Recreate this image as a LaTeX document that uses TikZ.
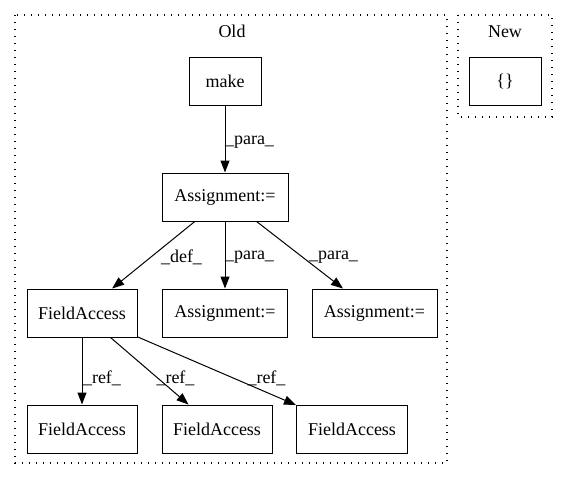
\documentclass[tikz,border=0pt]{standalone}
\usepackage{fontspec}
\setmainfont{Liberation Serif}
\usetikzlibrary{arrows.meta}

\begin{document}
\begin{tikzpicture}[x=1pt,y=-1pt,
	box/.style={draw,line width=1pt,minimum height=48pt,inner sep=0pt,font=\fontsize{18}{21}\selectfont},
	lbl/.style={inner sep=0pt,font=\fontsize{18}{21}\selectfont},
	arr/.style={line width=1pt,-{Triangle[length=12pt,width=9pt]}},
	cluster/.style={draw,line width=1.2pt,dash pattern=on 1.4pt off 5.6pt}]
	\useasboundingbox (0,0) rectangle (568,480);
	% clusters
	\draw[cluster] (15,15) rectangle (447,463);
	\draw[cluster] (458,15) rectangle (552,117);
	\node[lbl] (old) at (232,31) {Old};
	\node[lbl] (new) at (505,32) {New};
	% nodes
	\node[box,minimum width=72pt] (make) at (225,81) {make};
	\node[box,minimum width=126pt] (asgn) at (225,197) {Assignment:=};
	\node[box,minimum width=110pt] (fa) at (82,313) {FieldAccess};
	\node[box,minimum width=125pt] (asgnb) at (225,313) {Assignment:=};
	\node[box,minimum width=125pt] (asgnc) at (374.5,313) {Assignment:=};
	\node[box,minimum width=110pt] (fab) at (82,429) {FieldAccess};
	\node[box,minimum width=110pt] (fac) at (217,429) {FieldAccess};
	\node[box,minimum width=111pt] (fad) at (352,429) {FieldAccess};
	\node[box,minimum width=72pt] (braces) at (505,81) {\{\}};
	% edges
	\draw[arr] (make) -- (asgn);
	\draw[arr] (asgn) -- (fa);
	\draw[arr] (asgn) -- (asgnb);
	\draw[arr] (asgn) -- (asgnc);
	\draw[arr] (fa) -- (fab);
	\draw[arr] (fa) -- (fac);
	\draw[arr] (fa) -- (fad);
	% edge labels
	\node[lbl] (l1) at (249.5,142) {\_para\_};
	\node[lbl] (l2) at (181.5,257) {\_def\_};
	\node[lbl] (l3) at (249.5,257) {\_para\_};
	\node[lbl] (l4) at (333.5,257) {\_para\_};
	\node[lbl] (l5) at (102,378) {\_ref\_};
	\node[lbl] (l6) at (175.5,378) {\_ref\_};
	\node[lbl] (l7) at (266.5,378) {\_ref\_};
\end{tikzpicture}
\end{document}
